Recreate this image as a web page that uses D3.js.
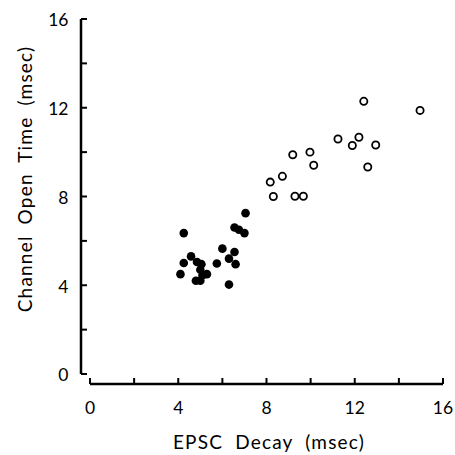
<!DOCTYPE html>
<html>
<head>
<meta charset="utf-8">
<script src="https://cdn.jsdelivr.net/npm/d3@7"></script>
<style>
  body { margin: 0; background: #fff; }
  text { font-family: Lato, "DejaVu Sans", sans-serif; fill: #000; }
</style>
</head>
<body>
<svg id="chart" width="455" height="455"></svg>
<script>
// filled circles: [EPSC decay, channel open time]
const filledPts = [
    [7.05, 7.25], [4.25, 6.35], [6.55, 6.6], [6.75, 6.5], [7.0, 6.35],
    [6.0, 5.65], [6.55, 5.5], [6.3, 5.2], [6.6, 4.95], [5.75, 4.98],
    [6.3, 4.03], [4.58, 5.3], [4.25, 5.0], [4.1, 4.5], [4.85, 5.05],
    [5.05, 4.95], [5.0, 4.7], [5.3, 4.5], [5.1, 4.45], [4.8, 4.2], [5.0, 4.2]
];
// open circles
const openPts = [
    [12.41, 12.29], [14.96, 11.88], [11.24, 10.59], [12.19, 10.67], [11.89, 10.3],
    [12.95, 10.32], [12.59, 9.33], [9.19, 9.88], [9.97, 10.0], [10.14, 9.41],
    [8.72, 8.91], [8.17, 8.65], [8.31, 8.0], [9.29, 8.01], [9.67, 8.01]
];
const tickVals = d3.range(0, 17, 2);
const labelVals = [0, 4, 8, 12, 16];

const svg = d3.select("#chart");

let x = d3.scaleLinear().domain([0, 16]).range([90, 443]);
let y = d3.scaleLinear().domain([0, 16]).range([374, 19]);

const axisX = 81;   // y axis sits left of x(0)
const axisY = 384;  // x axis sits below y(0)

// y axis
let yAxis = svg.append("g").attr("transform", `translate(${axisX},0)`);
yAxis.append("line")
    .attr("x1", 0).attr("x2", 0)
    .attr("y1", y(16)).attr("y2", y(0))
    .attr("stroke", "#000").attr("stroke-width", 2.5);
yAxis.selectAll("line.tick")
    .data(tickVals)
    .enter().append("line")
    .attr("class", "tick")
    .attr("x1", 0).attr("x2", 6)
    .attr("y1", d => y(d)).attr("y2", d => y(d))
    .attr("stroke", "#000").attr("stroke-width", 2);
yAxis.selectAll("text")
    .data(labelVals)
    .enter().append("text")
    .attr("x", -12.5)
    .attr("y", d => y(d))
    .attr("dy", "0.42em")
    .attr("text-anchor", "end")
    .style("font-size", "17.5px")
    .text(d => d);

// x axis
let xAxis = svg.append("g").attr("transform", `translate(0,${axisY})`);
xAxis.append("line")
    .attr("x1", x(0)).attr("x2", x(16))
    .attr("y1", 0).attr("y2", 0)
    .attr("stroke", "#000").attr("stroke-width", 2.5);
xAxis.selectAll("line.tick")
    .data(tickVals)
    .enter().append("line")
    .attr("class", "tick")
    .attr("x1", d => x(d)).attr("x2", d => x(d))
    .attr("y1", 0).attr("y2", -6)
    .attr("stroke", "#000").attr("stroke-width", 2);
xAxis.selectAll("text")
    .data(labelVals)
    .enter().append("text")
    .attr("x", d => x(d))
    .attr("y", 30)
    .attr("text-anchor", "middle")
    .style("font-size", "17.5px")
    .text(d => d);

// titles
svg.append("text")
    .attr("x", 269)
    .attr("y", 449)
    .attr("text-anchor", "middle")
    .style("font-size", "19px")
    .style("letter-spacing", "1.2px")
    .style("word-spacing", "6px")
    .text("EPSC Decay (msec)");

svg.append("text")
    .attr("transform", `translate(32,179) rotate(-90)`)
    .attr("text-anchor", "middle")
    .style("font-size", "19px")
    .style("letter-spacing", "1.2px")
    .style("word-spacing", "5px")
    .text("Channel Open Time (msec)");

// points
svg.append("g").selectAll("circle")
    .data(openPts)
    .enter().append("circle")
    .attr("cx", d => x(d[0]))
    .attr("cy", d => y(d[1]))
    .attr("r", 3.6)
    .attr("fill", "#fff")
    .attr("stroke", "#000")
    .attr("stroke-width", 1.8);

svg.append("g").selectAll("circle")
    .data(filledPts)
    .enter().append("circle")
    .attr("cx", d => x(d[0]))
    .attr("cy", d => y(d[1]))
    .attr("r", 4.3)
    .attr("fill", "#000");
</script>
</body>
</html>
